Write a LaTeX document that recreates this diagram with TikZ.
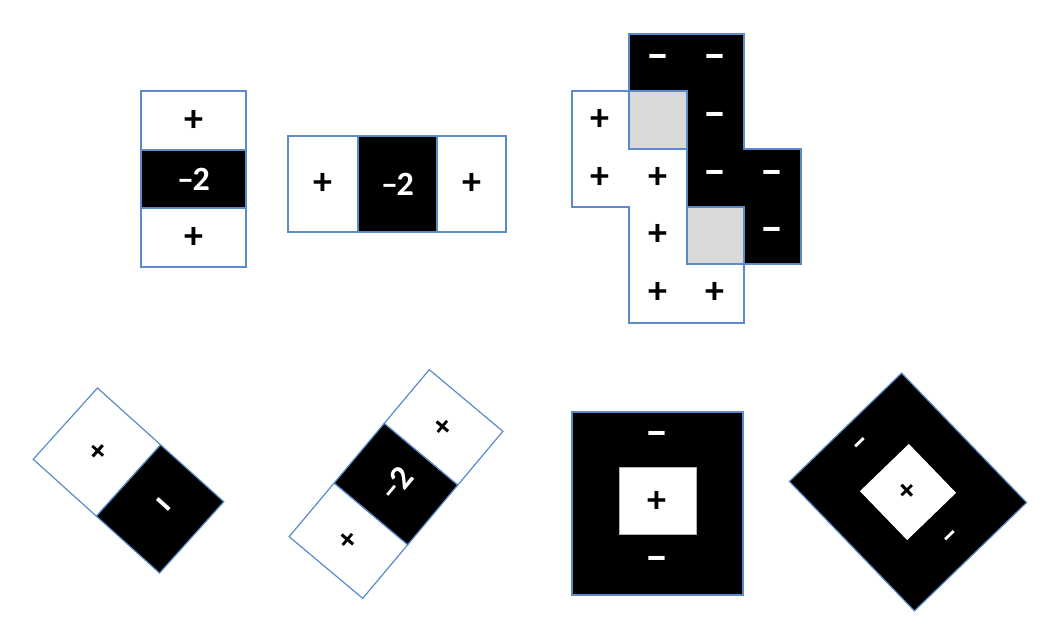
\documentclass[tikz,border=0pt]{standalone}
\usepackage{fontspec}
\setmainfont{Carlito}
\definecolor{rimblue}{RGB}{91,139,201}
\definecolor{cellgray}{RGB}{217,217,217}
\newcommand\bigsign{\fontsize{38}{38}\selectfont\bfseries}
\newcommand\dashsign{\fontsize{46}{46}\selectfont\bfseries}
\newcommand\midsign{\fontsize{34}{34}\selectfont\bfseries}
\newcommand\smallsign{\fontsize{32}{32}\selectfont\bfseries}

\begin{document}
\begin{tikzpicture}[x=1pt, y=-1pt,
    rim/.style={draw=rimblue, line width=1.8pt},
    thinrim/.style={draw=rimblue, line width=1.2pt},
    wcell/.style={rim, fill=white, inner sep=0pt, font=\bigsign},
    bcell/.style={rim, fill=black, inner sep=0pt, text=white, font=\midsign},
    possign/.style={font=\bigsign, inner sep=0pt},
    negsign/.style={font=\dashsign, text=white, inner sep=0pt}]
    \useasboundingbox[fill=white] (0,0) rectangle (1061,639);

    % vertical strip
    \node[wcell, minimum width=105pt, minimum height=59pt] (vtop) at (193.5,120.5) {+};
    \node[bcell, minimum width=105pt, minimum height=58pt] (vmid) at (193.5,179) {–\kern-0.04em2};
    \node[wcell, minimum width=105pt, minimum height=59pt] (vbot) at (193.5,237.5) {+};

    % horizontal strip
    \node[wcell, minimum width=70pt, minimum height=96pt] (hleft) at (323,184) {+};
    \node[bcell, minimum width=79pt, minimum height=96pt] (hmid) at (397.5,184) {–\kern-0.04em2};
    \node[wcell, minimum width=69pt, minimum height=96pt] (hright) at (471.5,184) {+};

    % staircase
    \draw[rim, fill=black] (629,34) -- (744,34) -- (744,149) -- (801,149) -- (801,264)
        -- (744,264) -- (744,207) -- (687,207) -- (687,91) -- (629,91) -- cycle;
    \draw[rim, fill=cellgray] (629,91) rectangle (687,149);
    \draw[rim, fill=cellgray] (687,207) rectangle (744,264);
    \draw[rim] (572,91) -- (629,91) -- (629,149) -- (687,149) -- (687,264) -- (744,264)
        -- (744,323) -- (629,323) -- (629,207) -- (572,207) -- cycle;
    \node[negsign] (sm1) at (658,62) {–};
    \node[negsign] (sm2) at (715,62) {–};
    \node[negsign] (sm3) at (715,120) {–};
    \node[negsign] (sm4) at (715,178) {–};
    \node[negsign] (sm5) at (772,178) {–};
    \node[negsign] (sm6) at (772,235) {–};
    \node[possign] (sp1) at (600,120) {+};
    \node[possign] (sp2) at (600,178) {+};
    \node[possign] (sp3) at (658,178) {+};
    \node[possign] (sp4) at (658,235) {+};
    \node[possign] (sp5) at (658,293) {+};
    \node[possign] (sp6) at (715,293) {+};

    % tilted pair
    \begin{scope}[shift={(128.5,480.5)}, rotate=-42]
        \draw[thinrim, fill=white] (-85,-48) rectangle (0,48);
        \draw[thinrim, fill=black] (0,-48) rectangle (85,48);
        \node[font=\smallsign, inner sep=0pt, rotate=-42] (tp) at (-42.5,0) {+};
        \node[font=\dashsign, inner sep=0pt, text=white, rotate=-42] (tm) at (42.5,0) {–};
    \end{scope}

    % tilted strip
    \begin{scope}[shift={(396,484)}, rotate=50]
        \draw[thinrim, fill=white] (-109,-48) rectangle (-39,48);
        \draw[thinrim, fill=black] (-39,-48) rectangle (39,48);
        \draw[thinrim, fill=white] (39,-48) rectangle (109,48);
        \node[font=\smallsign, inner sep=0pt, rotate=50] (rp1) at (-74,0) {+};
        \node[font=\midsign, inner sep=0pt, text=white, rotate=50] (rm) at (0,0) {–\kern-0.04em2};
        \node[font=\smallsign, inner sep=0pt, rotate=50] (rp2) at (74,0) {+};
    \end{scope}

    % ring
    \draw[rim, fill=black] (572,412) rectangle (743,595);
    \draw[draw=gray!60, line width=0.6pt, fill=white] (619,467) rectangle (696,534);
    \node[negsign] (qm1) at (657,439) {–};
    \node[possign] (qp) at (657,502) {+};
    \node[negsign] (qm2) at (657,564) {–};

    % tilted ring
    \begin{scope}[shift={(908,492)}, rotate=44]
        \draw[thinrim, fill=black] (-78,-90) rectangle (78,90);
        \fill[white] (-34,-34) rectangle (34,34);
        \node[font=\midsign, inner sep=0pt, text=white, rotate=44] (dm1) at (0,-65) {–};
        \node[font=\smallsign, inner sep=0pt, rotate=44] (dp) at (0,0) {+};
        \node[font=\midsign, inner sep=0pt, text=white, rotate=44] (dm2) at (0,65) {–};
    \end{scope}
\end{tikzpicture}
\end{document}
